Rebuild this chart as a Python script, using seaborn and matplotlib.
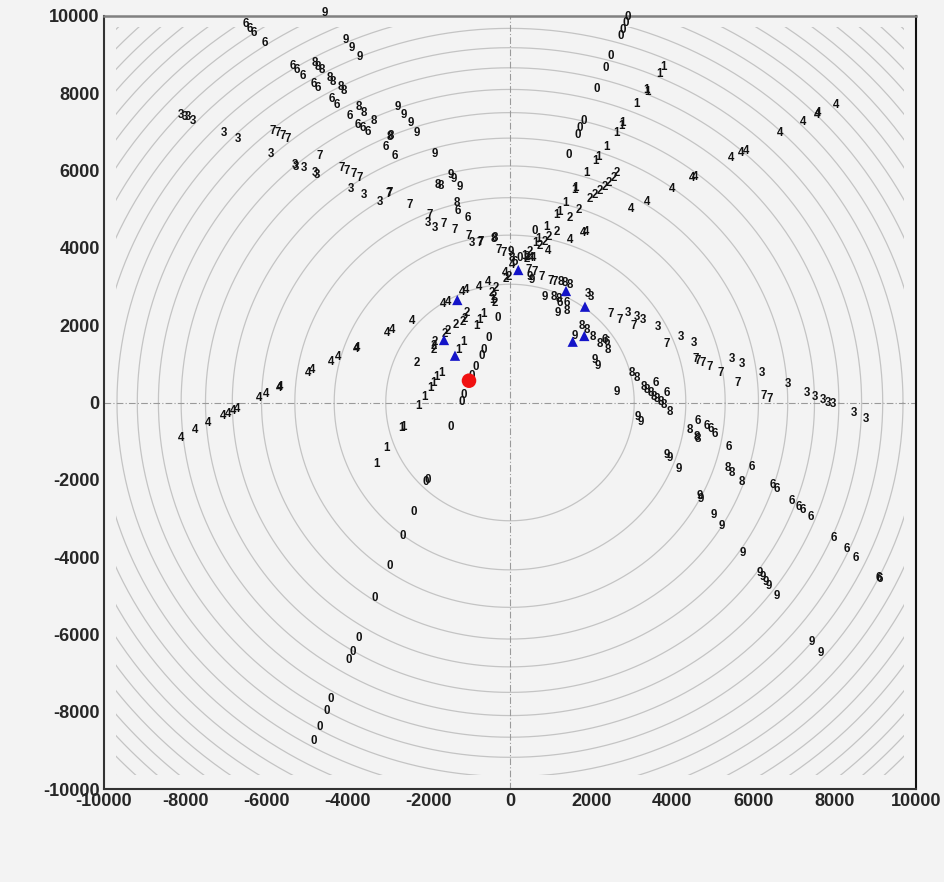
import numpy as np
import pandas as pd
import matplotlib
matplotlib.use("Agg")
import matplotlib.pyplot as plt
from matplotlib.patches import Rectangle
import seaborn as sns

# ---- hit positions, grouped by the station digit printed at each one ----
d0_x = [2890, 2857, 2766, 2727, 2488, 2365, 2135, 1806, 1724, 1667, 1453, 616, 246,
        -312, -534, -657, -697, -837, -944, -1150, -1190, -1453, -2069, -2037, -2381,
        -2652, -2956, -3325, -3736, -3884, -3982, -4409, -4515, -4697, -4845]
d0_y = [9966, 9827, 9638, 9483, 8965, 8647, 8103, 7291, 7094, 6921, 6404, 4450, 3744,
        2178, 1661, 1358, 1203, 911, 686, 194, 21, -626, -2049, -2005, -2825,
        -3454, -4230, -5066, -6101, -6447, -6662, -7679, -7974, -8388, -8750]

d1_x = [3793, 3670, 3366, 3391, 3120, 2775, 2750, 2627, 2365, 2118, 2192, 1888, 1584,
        1601, 1355, 1150, 1207, 910, 698, 616, 345,
        -430, -657, -755, -821, -1150, -1273, -1683, -1806, -1888, -1970, -2118,
        -2259, -2667, -2628, -3037, -3300]
d1_y = [8673, 8500, 8085, 8041, 7723, 7224, 7154, 6981, 6618, 6256, 6344, 5930, 5498,
        5541, 5169, 4851, 4937, 4545, 4222, 4119, 3795,
        2650, 2290, 2135, 1979, 1573, 1358, 755, 668, 497, 383, 150,
        -91, -668, -626, -1185, -1591]

d2_x = [1970, 2094, 2217, 2340, 2446, 2545, 2627, 1700, 1478, 1150, 944, 862, 739, 493,
        411, 419, -345, -451, -411, -369, -1067, -1125, -1150, -1330, -1535, -1601,
        -1847, -1888, -1872, -2283, -41, -98]
d2_y = [5257, 5369, 5480, 5584, 5687, 5801, 5930, 4981, 4766, 4419, 4290, 4160, 4049, 3902,
        3772, 3713, 2955, 2825, 2737, 2582, 2323, 2153, 2091, 2005, 1858, 1772,
        1573, 1462, 1358, 1030, 3255, 3188]

d3_x = [-8096, -8012, -7931, -7808, -7044, -6700, -5879, -5304, -5270, -5074, -4811,
        -4761, -3916, -3596, -3202, -2012, -1847, -944,
        1929, 1987, 2914, 3136, 3268, 3653, 4204, 4532, 5460, 5706, 6199, 6839, 7323,
        7512, 7718, 7840, 7948, 8473, 8768]
d3_y = [7439, 7395, 7379, 7291, 6965, 6810, 6429, 6145, 6100, 6059, 5930,
        5886, 5516, 5369, 5180, 4636, 4523, 4119,
        2807, 2722, 2323, 2220, 2135, 1961, 1703, 1547, 1117, 996, 771, 479, 254,
        150, 65, -5, -39, -264, -435]

d4_x = [-8111, -7751, -7438, -7069, -6946, -6823, -6717, -6190, -6018, -5690, -5658,
        -4975, -4870, -4417, -4229, -3801, -3761, -3038, -2914, -2422, -1643, -1520,
        -1190, -1084, -756, -534, -123, 49, 517,
        8030, 7569, 7594, 7209, 6650, 5682, 5813, 5436, 4475, 4557, 3982, 3366, 2973,
        1806, 1864, 1478, 944, 575]
d4_y = [-911, -712, -538, -349, -298, -212, -176, 109, 220, 383, 409,
        771, 841, 1056, 1169, 1376, 1410, 1806, 1876, 2117, 2541, 2593,
        2867, 2911, 2996, 3126, 3343, 3560, 3744,
        7697, 7439, 7482, 7250, 6965, 6447, 6515, 6318, 5801, 5842, 5524, 5195, 4998,
        4378, 4404, 4204, 3915, 3731]

d6_x = [-6495, -6396, -6305, -6042, -5345, -5246, -5099, -4828, -4729, -4392, -4269,
        -3941, -3736, -3613, -3505, -3054, -2833, -1273, -1042, 123,
        1232, 1396, 2340, 2382, 3596, 3859, 4638, 4860, 4943, 5049, 5394, 5969, 6486,
        6584, 6938, 7126, 7209, 7407, 7980, 8308, 8522, 9096, 9113]
d6_y = [9793, 9656, 9552, 9309, 8706, 8603, 8448, 8233, 8129, 7845, 7697,
        7413, 7180, 7094, 6991, 6603, 6386, 4963, 4766, 3635,
        2582, 2566, 1617, 1573, 497, 254, -471, -608, -693, -815, -1144, -1661, -2135,
        -2246, -2541, -2712, -2781, -2955, -3514, -3798, -4031, -4533, -4574]

d7_x = [-5837, -5714, -5591, -5468, -4688, -4146, -4023, -3842, -3712, -2997, -2960,
        -2463, -1988, -1626, -1355, -1010, -739, -720, -288, -165,
        780, 1002, 1108, 451, 616, 2480, 2709, 3038, 3859, 4581, 4623, 4746, 4926,
        5190, 5599, 6240, 6387]
d7_y = [7025, 6965, 6895, 6810, 6386, 6059, 5997, 5912, 5816, 5395, 5420,
        5110, 4851, 4618, 4463, 4308, 4119, 4140, 3946, 3876,
        3255, 3152, 3126, 3428, 3384, 2290, 2135, 1987, 1514, 1125, 1074, 1014, 911,
        755, 512, 168, 83]

d8_x = [-4811, -4729, -4631, -4433, -4352, -4170, -4089, -3736, -3596, -3350, -2956,
        -2940, -1766, -1707, -1298, -394, -380, 49,
        1248, 1355, 1461, 1084, 1190, 1396, 1781, 1889, 2052, 2217, 2406, 2997, 3120,
        3300, 3382, 3465, 3547, 3628, 3712, 3793, 3924, 4417, 4598, 4638, 5377, 5460,
        5706]
d8_y = [8776, 8688, 8603, 8388, 8300, 8155, 8067, 7653, 7498, 7291, 6877,
        6900, 5627, 5601, 5169, 4230, 4250, 3744,
        3126, 3084, 3040, 2722, 2670, 2375, 1979, 1876, 1703, 1514, 1358, 755, 626,
        409, 323, 238, 150, 83, 21, -65, -238, -712, -885, -952, -1703, -1816,
        -2065]

d9_x = [-4564, -4039, -3899, -3695, -2751, -2611, -2446, -2283, -1864, -1461, -1396,
        -1232, 17, 493, 534, 862, 1175, 1601, 2094, 2151, 2643, 3136, 3219, 3859,
        3941, 4146, 4663, 4697, 5008, 5213, 5731, 6141, 6224, 6305, 6363, 6569,
        7446, 7653]
d9_y = [10085, 9379, 9180, 8931, 7638, 7439, 7224, 6981, 6429, 5886, 5775,
        5584, 3902, 3255, 3170, 2722, 2323, 1721, 1100, 944, 280, -367, -497, -1358,
        -1444, -1729, -2419, -2505, -2911, -3195, -3886, -4404, -4523, -4636, -4748, -5006,
        -6189, -6490]

# reconstructed track seeds and the fitted vertex
seed_x = [-1298, -1626, -1355, 204, 1379, 1847, 1830, 1544]
seed_y = [2652, 1617, 1211, 3428, 2885, 2479, 1721, 1573]
vertex_x = [-1010]
vertex_y = [564]

# detector ring radii
ring_r = [3060, 4330, 5300, 6120, 6840, 7500, 8100, 8660, 9180, 9680, 10150,
          10600, 11030, 11450, 11850, 12240, 12620, 12980, 13340, 13690, 14020]

tick_vals = [-10000, -8000, -6000, -4000, -2000, 0, 2000, 4000, 6000, 8000, 10000]

BG = "#f3f3f3"
sns.set_style("white")
plt.rcParams["font.family"] = ["Liberation Sans", "DejaVu Sans"]

fig = plt.figure(figsize=(9.44, 8.82), dpi=100, facecolor=BG)
ax = fig.add_axes([104 / 944, 1 - 789 / 882, 812 / 944, 773 / 882])
ax.set_facecolor(BG)
ax.set_xlim(-10000, 10000)
ax.set_ylim(-10000, 10000)

# rings, clipped to the inner box
clip = Rectangle((-9700, -9650), 19400, 19370, transform=ax.transData,
                 facecolor="none", edgecolor="none")
ax.add_patch(clip)
theta = np.linspace(0, 2 * np.pi, 721)
for r in ring_r:
    ln, = ax.plot(r * np.cos(theta), r * np.sin(theta), color="#c4c4c4",
                  lw=0.9, zorder=1)
    ln.set_clip_path(clip)

# axis cross-hairs
ax.axhline(0, color="#9a9a9a", lw=0.8, ls=(0, (6, 2, 1, 2)), zorder=1)
ax.axvline(0, color="#9a9a9a", lw=0.8, ls=(0, (6, 2, 1, 2)), zorder=1)

# digit labels at each hit
groups = [("0", d0_x, d0_y), ("1", d1_x, d1_y), ("2", d2_x, d2_y),
          ("3", d3_x, d3_y), ("4", d4_x, d4_y), ("6", d6_x, d6_y),
          ("7", d7_x, d7_y), ("8", d8_x, d8_y), ("9", d9_x, d9_y)]
for lab, xs, ys in groups:
    for x, y in zip(xs, ys):
        ax.text(x, y, lab, ha="center", va="center", fontsize=8.3,
                fontweight="bold", color="#111111", zorder=3, clip_on=False)

seeds = pd.DataFrame({"x": seed_x, "y": seed_y})
sns.scatterplot(data=seeds, x="x", y="y", marker="^", s=55, color="#1414c8",
                edgecolor="none", ax=ax, zorder=4)
vtx = pd.DataFrame({"x": vertex_x, "y": vertex_y})
sns.scatterplot(data=vtx, x="x", y="y", marker="o", s=110, color="#f01010",
                edgecolor="none", ax=ax, zorder=5)

ax.set_xlabel("")
ax.set_ylabel("")
ax.set_xticks(tick_vals)
ax.set_yticks(tick_vals)
ax.set_xticks(np.arange(-10000, 10001, 500), minor=True)
ax.set_yticks(np.arange(-10000, 10001, 500), minor=True)
ax.set_xticklabels([str(v) for v in tick_vals])
ax.set_yticklabels([str(v) for v in tick_vals])
ax.tick_params(which="major", direction="in", length=24, width=1.0, color="#222222",
               top=False, right=False, labelsize=13, pad=3)
ax.tick_params(which="minor", direction="in", length=12, width=1.0, color="#222222",
               top=False, right=False)
for lbl in ax.get_xticklabels() + ax.get_yticklabels():
    lbl.set_fontweight("bold")

for side in ["left", "bottom"]:
    ax.spines[side].set_color("#333333")
    ax.spines[side].set_linewidth(1.5)
ax.spines["top"].set_color("#808080")
ax.spines["top"].set_linewidth(1.8)
ax.spines["right"].set_color("#111111")
ax.spines["right"].set_linewidth(1.5)

fig.savefig("out.png", dpi=100, facecolor=BG)
